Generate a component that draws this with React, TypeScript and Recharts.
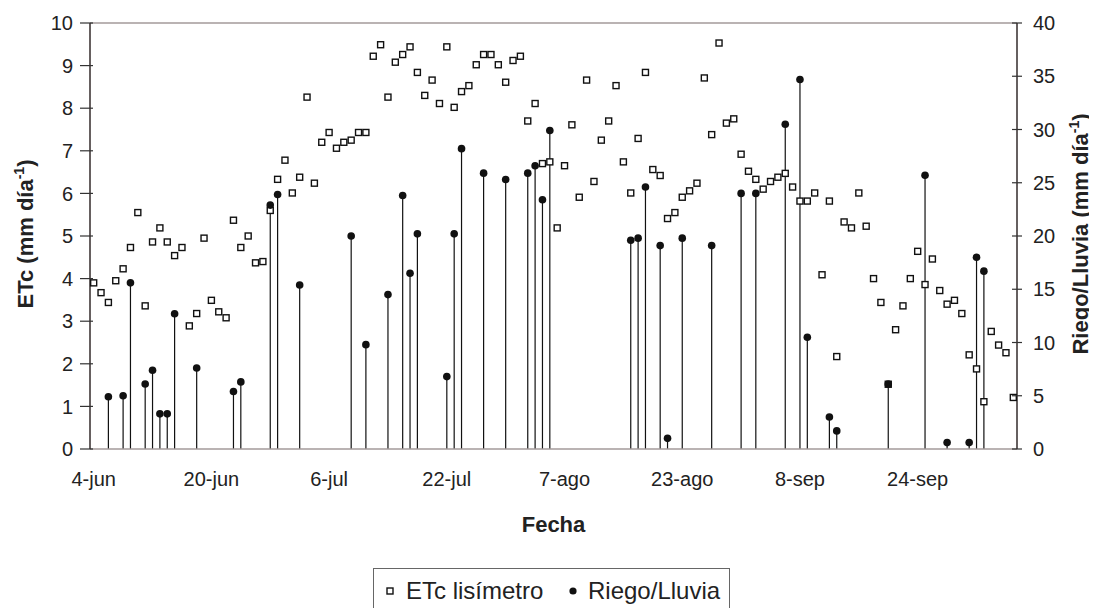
import { ComposedChart, Scatter, XAxis, YAxis, ErrorBar, ReferenceLine, Legend, Label } from 'recharts'

const FONT = '"Liberation Sans", Arial, Helvetica, sans-serif'

// days counted from 4-jun (day 0)
const tickDays = [0, 16, 32, 48, 64, 80, 96, 112]
const tickLabels = ['4-jun', '20-jun', '6-jul', '22-jul', '7-ago', '23-ago', '8-sep', '24-sep']

// ETc lisímetro, one value per day from 4-jun (mm/día)
const etcValues = [
  3.9, 3.67, 3.44, 3.95, 4.23, 4.73, 5.55, 3.36, 4.86, 5.19,
  4.86, 4.54, 4.73, 2.89, 3.18, 4.95, 3.49, 3.22, 3.08, 5.37,
  4.73, 5.0, 4.37, 4.4, 5.6, 6.33, 6.78, 6.01, 6.38, 8.26,
  6.24, 7.2, 7.43, 7.06, 7.2, 7.25, 7.43, 7.43, 9.22, 9.49,
  8.26, 9.08, 9.26, 9.44, 8.84, 8.3, 8.66, 8.11, 9.44, 8.02,
  8.39, 8.53, 9.02, 9.26, 9.26, 9.02, 8.61, 9.12, 9.22, 7.7,
  8.11, 6.7, 6.74, 5.19, 6.65, 7.61, 5.91, 8.66, 6.28, 7.25,
  7.7, 8.53, 6.74, 6.01, 7.29, 8.84, 6.56, 6.42, 5.41, 5.55,
  5.91, 6.06, 6.24, 8.71, 7.38, 9.53, 7.65, 7.75, 6.92, 6.52,
  6.33, 6.1, 6.28, 6.38, 6.47, 6.15, 5.82, 5.82, 6.01, 4.09,
  5.82, 2.17, 5.33, 5.19, 6.01, 5.23, 4.0, 3.44, 1.52, 2.8,
  3.36, 4.0, 4.64, 3.86, 4.46, 3.72, 3.4, 3.49, 3.18, 2.21,
  1.88, 1.11, 2.76, 2.44, 2.26, 1.21,
]

// Riego/Lluvia events (day from 4-jun, mm)
const riegoDays = [
  2, 4, 5, 7, 8, 9, 10, 11, 14, 19, 20, 24, 25, 28, 35, 37, 40, 42, 43, 44,
  48, 49, 50, 53, 56, 59, 60, 61, 62, 73, 74, 75, 77, 78, 80, 84, 88, 90, 94, 96,
  97, 100, 101, 108, 113, 116, 119, 120, 121,
]
const riegoMm = [
  4.9, 5.0, 15.6, 6.1, 7.4, 3.3, 3.3, 12.7, 7.6, 5.4, 6.3, 22.9, 23.9, 15.4, 20.0, 9.8, 14.5, 23.8, 16.5, 20.2,
  6.8, 20.2, 28.2, 25.9, 25.3, 25.9, 26.6, 23.4, 29.9, 19.6, 19.8, 24.6, 19.1, 1.0, 19.8, 19.1, 24.0, 24.0, 30.5, 34.7,
  10.5, 3.0, 1.7, 6.1, 25.7, 0.6, 0.6, 18.0, 16.7,
]

const etcData = etcValues.map((v, i) => ({ day: i, etc: v }))
const riegoData = riegoDays.map((d, i) => ({ day: d, riego: riegoMm[i], stem: [riegoMm[i], 0] }))

const SquareDot = (p: any) => (
  <rect x={p.cx - 3} y={p.cy - 3} width={6} height={6} fill="#fff" stroke="#111" strokeWidth={1.4} />
)
const RoundDot = (p: any) => <circle cx={p.cx} cy={p.cy} r={3.8} fill="#111" />

const LeftTick = ({ x, y, payload }: any) => {
  const ax = x + 17
  return (
    <g>
      <line x1={ax - 10} x2={ax + 3} y1={y} y2={y} stroke="#333" strokeWidth={1.2} />
      <text x={x} y={y} dy="0.36em" textAnchor="end" fontSize={20} fill="#222" fontFamily={FONT}>
        {payload.value}
      </text>
    </g>
  )
}

const RightTick = ({ x, y, payload }: any) => {
  const ax = x - 16
  return (
    <g>
      <line x1={ax - 5} x2={ax + 5} y1={y} y2={y} stroke="#333" strokeWidth={1.2} />
      <text x={x} y={y} dy="0.36em" textAnchor="start" fontSize={20} fill="#222" fontFamily={FONT}>
        {payload.value}
      </text>
    </g>
  )
}

const yTitle = (text: string, dx: number) => (props: any) => {
  const vb = props.viewBox
  const cx = vb.x + dx
  const cy = vb.y + vb.height / 2 - 2
  return (
    <text
      x={cx}
      y={cy}
      dy="0.36em"
      textAnchor="middle"
      transform={`rotate(-90 ${cx} ${cy})`}
      fontSize={22}
      fontWeight="bold"
      fill="#222"
      fontFamily={FONT}
    >
      {text}
      <tspan dy={-9} fontSize={14}>-1</tspan>
      <tspan dy={9}>)</tspan>
    </text>
  )
}

const xTitle = (props: any) => {
  const vb = props.viewBox
  return (
    <text x={vb.x + vb.width / 2} y={vb.y + 83} textAnchor="middle" fontSize={22} fontWeight="bold" fill="#222" fontFamily={FONT}>
      Fecha
    </text>
  )
}

const LegendBox = ({ payload }: any) => {
  const items = payload || []
  return (
    <div
      style={{
        position: 'relative',
        width: 357,
        height: 46,
        boxSizing: 'border-box',
        border: '1px solid #666',
        background: '#fff',
        fontFamily: FONT,
        fontSize: 24,
        color: '#222',
      }}
    >
      <svg width={10} height={10} style={{ position: 'absolute', left: 11, top: 17 }}>
        <rect x={2} y={2} width={6} height={6} fill="#fff" stroke="#111" strokeWidth={1.4} />
      </svg>
      <span style={{ position: 'absolute', left: 32, top: 8, whiteSpace: 'nowrap' }}>{items[0]?.value}</span>
      <svg width={10} height={10} style={{ position: 'absolute', left: 194, top: 17 }}>
        <circle cx={5} cy={5} r={3.6} fill="#111" />
      </svg>
      <span style={{ position: 'absolute', left: 214, top: 8, whiteSpace: 'nowrap' }}>{items[1]?.value}</span>
    </div>
  )
}

export default function App() {
  return (
    <ComposedChart
      width={1089}
      height={600}
      margin={{ top: 15, right: 0, left: 0, bottom: 99 }}
      style={{ fontFamily: FONT }}
    >
      <XAxis
        type="number"
        dataKey="day"
        domain={[-0.5, 125.5]}
        ticks={tickDays}
        tickFormatter={(v: number) => tickLabels[tickDays.indexOf(v)] ?? ''}
        tick={{ fontSize: 20, fill: '#222', fontFamily: FONT }}
        tickLine={false}
        tickSize={0}
        tickMargin={23}
        axisLine={{ stroke: '#a39a9a', strokeWidth: 1.5 }}
        height={60}
        interval={0}
      >
        <Label content={xTitle} />
      </XAxis>
      <YAxis
        yAxisId="left"
        dataKey="etc"
        domain={[0, 10]}
        ticks={[0, 1, 2, 3, 4, 5, 6, 7, 8, 9, 10]}
        width={82}
        tickLine={false}
        tickSize={8}
        tickMargin={9}
        tick={LeftTick}
        axisLine={{ stroke: '#332b2b', strokeWidth: 1.5 }}
        interval={0}
      >
        <Label content={yTitle('ETc (mm día', 17)} />
      </YAxis>
      <YAxis
        yAxisId="right"
        orientation="right"
        dataKey="riego"
        domain={[0, 40]}
        ticks={[0, 5, 10, 15, 20, 25, 30, 35, 40]}
        width={80}
        tickLine={false}
        tickSize={5}
        tickMargin={11}
        tick={RightTick}
        axisLine={{ stroke: '#332b2b', strokeWidth: 1.5 }}
        interval={0}
      >
        <Label content={yTitle('Riego/Lluvia (mm día', 63)} />
      </YAxis>
      <ReferenceLine yAxisId="left" y={10} stroke="#a39a9a" strokeWidth={1.5} />
      <Scatter
        name="ETc lisímetro"
        data={etcData}
        yAxisId="left"
        dataKey="etc"
        shape={SquareDot}
        isAnimationActive={false}
      />
      <Scatter
        name="Riego/Lluvia"
        data={riegoData}
        yAxisId="right"
        dataKey="riego"
        shape={RoundDot}
        isAnimationActive={false}
      >
        <ErrorBar dataKey="stem" direction="y" width={0} stroke="#111" strokeWidth={1.2} isAnimationActive={false} />
      </Scatter>
      <Legend
        layout="horizontal"
        verticalAlign="middle"
        align="center"
        content={LegendBox}
        wrapperStyle={{ left: 365, top: 560, width: 357, height: 46 }}
      />
    </ComposedChart>
  )
}
